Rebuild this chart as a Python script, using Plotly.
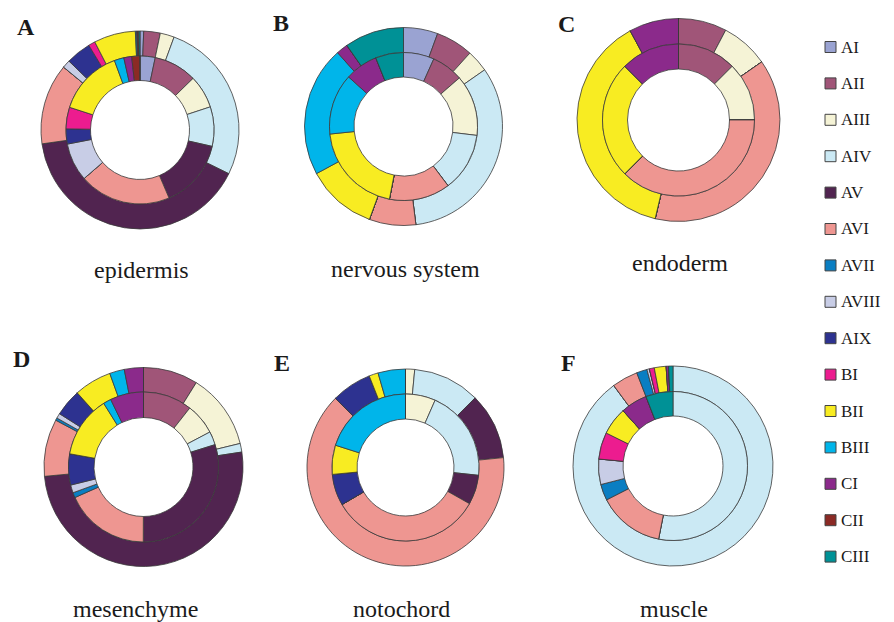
import plotly.graph_objects as go

# The page body has an 8px margin; the figure fills the rest of the window.
OFF = 8
W, H = 894 - OFF, 622 - OFF

categories = ["AI", "AII", "AIII", "AIV", "AV", "AVI", "AVII", "AVIII", "AIX",
              "BI", "BII", "BIII", "CI", "CII", "CIII"]
colors = ["#9aa3d2", "#a05578", "#f5f3d6", "#cbe9f4", "#512450", "#ee9691",
          "#0a7ec2", "#c8cde6", "#2d3290", "#ec1c8f", "#f8ec22", "#00b5ea",
          "#8b2a8b", "#8b2a25", "#009196"]

# percentages (inner ring, outer ring) per tissue, in category order
epidermis_inner = [3.3, 9.4, 7.2, 8.6, 15.0, 20.0, 0, 8.3, 3.3, 4.7, 14.4, 2.1, 1.7, 1.8, 0]
epidermis_outer = [0.6, 2.7, 2.3, 26.7, 40.5, 13.2, 0, 1.3, 4.1, 1.1, 6.8, 0.2, 0.15, 0.2, 0.2]
nervous_inner = [6.7, 6.9, 13.3, 12.8, 0, 13.3, 0, 0, 0, 0, 20.3, 13.3, 7.2, 0, 6.1]
nervous_outer = [5.6, 6.1, 3.6, 32.7, 0, 7.6, 0, 0, 0, 0, 11.5, 21.3, 1.9, 0, 9.7]
endoderm_inner = [0, 12.5, 12.5, 0, 0, 37.5, 0, 0, 0, 0, 25.0, 0, 12.5, 0, 0]
endoderm_outer = [0, 7.7, 7.6, 0, 0, 38.4, 0, 0, 0, 0, 38.4, 0, 7.9, 0, 0]
mesenchyme_inner = [0, 10.6, 6.7, 2.9, 29.9, 18.3, 1.1, 1.7, 6.7, 0, 13.3, 1.7, 7.2, 0, 0]
mesenchyme_outer = [0, 8.9, 12.3, 1.4, 50.9, 9.3, 0.4, 0.8, 4.4, 0, 6.1, 2.4, 3.1, 0, 0]
notochord_inner = [0, 0, 6.6, 20.1, 6.5, 33.4, 0, 0, 6.9, 0, 6.4, 20.1, 0, 0, 0]
notochord_outer = [0, 0, 1.5, 11.0, 10.9, 64.0, 0, 0, 6.6, 0, 1.5, 4.5, 0, 0, 0]
muscle_inner = [0, 0, 0, 53.1, 0, 14.4, 3.5, 5.5, 0, 5.8, 6.0, 0, 5.8, 0, 5.9]
muscle_outer = [0, 0, 0, 89.9, 0, 4.2, 1.7, 0.4, 0, 0.8, 1.9, 0, 0.4, 0, 0.7]

tissues = ["epidermis", "nervous system", "endoderm", "mesenchyme", "notochord", "muscle"]
panel_letters = ["A", "B", "C", "D", "E", "F"]
inner_values = [epidermis_inner, nervous_inner, endoderm_inner,
                mesenchyme_inner, notochord_inner, muscle_inner]
outer_values = [epidermis_outer, nervous_outer, endoderm_outer,
                mesenchyme_outer, notochord_outer, muscle_outer]

# layout geometry (window pixels)
centers = [(140, 130), (403.5, 126.5), (678.5, 120), (143.5, 467), (405.5, 467.5), (673, 466)]
r_outer = [99, 99, 101.5, 99.5, 98.5, 100]
r_mid = [74, 74, 76, 75, 73.5, 74.5]
r_hole = [49.5, 49.5, 51, 49.5, 48.5, 50]
label_pos = [(141.5, 270), (405, 269), (680, 263), (135, 609), (401, 609), (674, 609)]
letter_pos = [(26, 27), (281, 23), (566, 24), (21, 359), (282, 363), (568, 363)]


def px(x):
    return (x - OFF) / W


def py(y):
    return 1 - (y - OFF) / H


fig = go.Figure()
line = dict(color="#3a3a3a", width=0.8)
for i in range(6):
    cx, cy = centers[i]
    for vals, r, hole in [(outer_values[i], r_outer[i], r_mid[i] / r_outer[i]),
                          (inner_values[i], r_mid[i], r_hole[i] / r_mid[i])]:
        fig.add_trace(go.Pie(
            labels=categories, values=vals, sort=False, direction="clockwise",
            rotation=0, hole=hole, textinfo="none", showlegend=False,
            marker=dict(colors=colors, line=line),
            domain=dict(x=[px(cx - r), px(cx + r)], y=[py(cy + r), py(cy - r)]),
            name=tissues[i],
        ))

annotations = []
for i in range(6):
    lx, ly = label_pos[i]
    annotations.append(dict(x=px(lx), y=py(ly), xref="paper", yref="paper",
                            text=tissues[i], showarrow=False, xanchor="center", yanchor="middle",
                            font=dict(family="Liberation Serif", size=24, color="#1a1a1a")))
    tx, ty = letter_pos[i]
    annotations.append(dict(x=px(tx), y=py(ty), xref="paper", yref="paper",
                            text="<b>" + panel_letters[i] + "</b>", showarrow=False,
                            xanchor="center", yanchor="middle",
                            font=dict(family="Liberation Serif", size=24, color="#1a1a1a")))

shapes = []
for k, (cat, col) in enumerate(zip(categories, colors)):
    yc = 47 + 36.4 * k
    shapes.append(dict(type="rect", xref="paper", yref="paper",
                       x0=px(825), x1=px(836), y0=py(yc + 5.5), y1=py(yc - 5.5),
                       fillcolor=col, line=dict(color="#444", width=1)))
    annotations.append(dict(x=px(839), y=py(yc), xref="paper", yref="paper",
                            text=cat, showarrow=False, xanchor="left", yanchor="middle",
                            font=dict(family="Liberation Serif", size=17, color="#1a1a1a")))

fig.update_layout(width=W, height=H, margin=dict(l=0, r=0, t=0, b=0),
                  paper_bgcolor="white", plot_bgcolor="white",
                  annotations=annotations, shapes=shapes)
fig.write_html("out.html")
